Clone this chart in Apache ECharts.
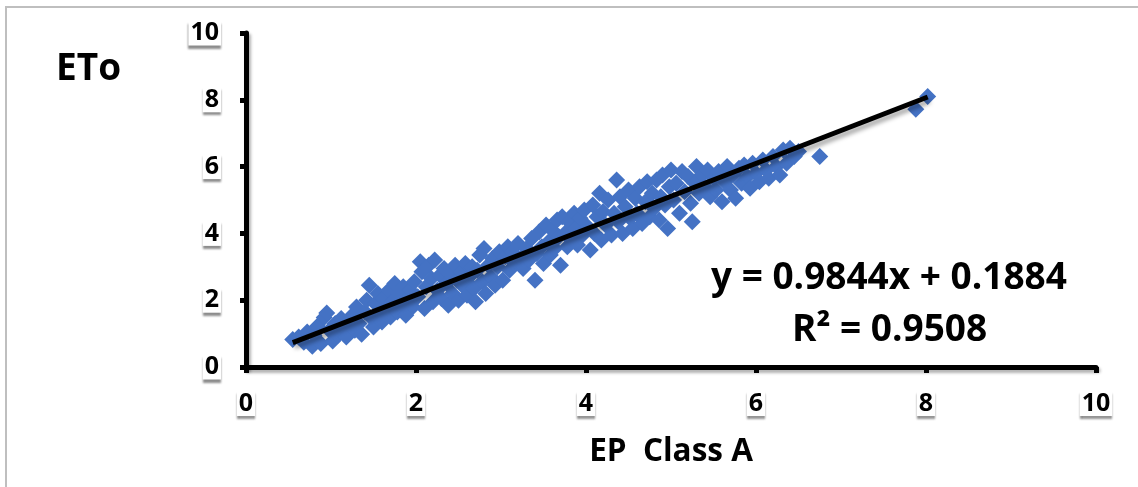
<!DOCTYPE html>
<html>
<head>
<meta charset="utf-8">
<script src="https://cdn.jsdelivr.net/npm/echarts@6/dist/echarts.min.js"></script>
<style>
  html, body { margin: 0; padding: 0; background: #fff; }
  #chart { width: 1138px; height: 487px; }
</style>
</head>
<body>
<div id="chart"></div>
<script>
// Daily pan evaporation (EP, Class A) vs reference evapotranspiration (ETo)
const epClassA = [
  0.55,0.62,0.68,0.72,0.78,0.80,0.84,0.88,0.92,0.95,0.98,1.02,1.05,1.08,1.12,1.15,1.18,1.20,
  1.25,1.28,1.30,1.33,1.36,1.40,1.42,1.45,1.48,1.50,1.52,1.55,1.58,1.60,1.62,1.65,1.68,1.70,1.72,1.75,1.78,1.80,1.82,1.85,1.88,1.90,1.93,1.96,1.98,
  2.02,2.05,2.07,2.10,2.12,2.15,2.18,2.20,2.22,2.25,2.28,2.30,2.33,2.36,2.38,2.40,2.43,2.46,2.48,2.50,2.53,2.56,2.58,2.60,2.63,2.66,2.68,2.70,2.72,2.75,2.78,2.80,2.82,2.85,2.88,2.90,2.93,2.96,2.98,
  3.02,3.05,3.08,3.10,3.13,3.16,3.20,3.23,3.26,3.30,3.33,3.36,3.40,3.42,3.45,3.48,3.50,3.53,3.56,3.58,3.60,3.63,3.66,3.68,3.70,3.72,3.75,3.78,3.80,3.83,3.86,3.88,3.90,3.93,3.96,3.98,
  4.02,4.05,4.08,4.10,4.13,4.16,4.18,4.20,4.23,4.26,4.30,4.33,4.36,4.38,4.40,4.43,4.46,4.50,4.52,4.55,4.58,4.60,4.63,4.66,4.70,4.72,4.75,4.78,4.80,4.83,4.86,4.88,4.90,4.93,4.96,4.98,
  5.00,5.03,5.06,5.10,5.13,5.16,5.20,5.23,5.25,5.28,5.30,5.33,5.36,5.40,5.43,5.46,5.50,5.53,5.56,5.60,5.63,5.66,5.70,5.73,5.76,5.80,5.83,5.86,5.90,5.93,5.96,
  6.00,6.04,6.08,6.12,6.15,6.20,6.24,6.28,6.32,6.36,6.40,6.45,6.50,6.75,7.88,8.02
];
const eto = [
  0.82,0.90,0.74,1.05,0.62,0.95,1.22,0.70,1.48,1.62,1.10,0.78,1.30,0.95,1.45,1.18,0.90,1.35,
  1.55,1.10,1.80,1.30,0.98,1.65,2.00,2.45,1.45,1.20,1.90,2.20,1.60,1.35,2.05,1.75,2.30,1.50,1.95,2.50,1.65,2.20,1.85,2.40,1.55,2.05,2.30,1.80,2.55,
  2.10,3.15,2.85,1.75,2.40,3.05,2.65,1.95,3.20,2.30,2.75,2.05,2.95,2.50,1.85,2.80,2.20,3.05,2.60,2.00,2.85,2.40,3.10,2.15,2.70,3.00,2.35,1.95,2.90,3.35,2.55,3.55,2.20,3.05,2.70,3.25,2.45,3.00,3.45,
  2.60,3.30,3.60,2.90,3.45,3.10,3.70,3.25,2.95,3.55,3.20,3.85,2.60,3.40,4.05,3.60,3.10,4.25,3.75,3.35,4.10,3.55,4.40,3.90,3.05,4.50,4.00,3.60,4.35,3.85,4.60,4.15,3.65,4.45,3.95,4.70,
  4.20,3.50,4.85,4.00,4.50,5.20,3.80,4.65,4.25,5.00,3.95,4.60,5.60,4.35,5.10,4.00,4.80,5.30,4.45,4.15,5.05,4.60,5.40,4.30,4.95,5.55,4.50,5.20,4.75,5.60,4.40,5.10,5.75,4.85,4.15,5.40,
  5.90,5.00,5.50,4.60,5.85,5.25,5.70,4.90,4.35,5.50,6.00,5.20,5.75,5.40,5.90,5.10,5.65,5.30,5.85,4.95,5.55,6.00,5.30,5.75,5.05,5.95,5.50,6.05,5.70,5.35,6.10,
  5.80,5.55,6.20,5.90,5.65,6.30,6.00,5.75,6.50,6.10,6.55,6.30,6.45,6.30,7.72,8.10
];

// Linear trend reported on the chart
const slope = 0.9844;
const intercept = 0.1884;
const rSquared = 0.9508;

const axisTicks = [0, 2, 4, 6, 8, 10];

const points = epClassA.map((x, i) => [x, eto[i]]);
const xMin = Math.min(...epClassA);
const xMax = Math.max(...epClassA);
const trend = [[xMin, slope * xMin + intercept], [xMax, slope * xMax + intercept]];

const labelFont = '"Open Sans", Lato, sans-serif';

const axisLabelStyle = {
  color: '#000',
  fontFamily: labelFont,
  fontWeight: 'bold',
  fontSize: 25,
  backgroundColor: '#fff',
  padding: [0, 2, 0, 2],
  shadowColor: 'rgba(0,0,0,0.45)',
  shadowBlur: 2,
  shadowOffsetX: 0,
  shadowOffsetY: 3,
  formatter: v => axisTicks.includes(v) ? String(v) : ''
};

const axisLineStyle = {
  color: '#000',
  width: 5,
  shadowColor: 'rgba(0,0,0,0.3)',
  shadowBlur: 3,
  shadowOffsetX: 2,
  shadowOffsetY: 3
};

const chart = echarts.init(document.getElementById('chart'), null, { renderer: 'canvas' });

chart.setOption({
  animation: false,
  backgroundColor: '#fff',
  grid: { left: 246, top: 33, right: 42, bottom: 120, containLabel: false },
  title: {
    text: 'ETo',
    left: 51,
    top: 46,
    textStyle: { fontFamily: labelFont, fontWeight: 'bold', fontSize: 37, color: '#000' }
  },
  xAxis: {
    type: 'value',
    min: 0, max: 10, interval: 2,
    name: 'EP  Class A',
    nameLocation: 'middle',
    nameGap: 69,
    nameTextStyle: { fontFamily: labelFont, fontWeight: 'bold', fontSize: 31.5, color: '#000', verticalAlign: 'top' },
    axisLine: { show: true, onZero: false, lineStyle: axisLineStyle },
    axisTick: { show: true, inside: false, length: 6, lineStyle: { color: '#000', width: 5 } },
    axisLabel: Object.assign({ margin: 24 }, axisLabelStyle),
    splitLine: { show: false }
  },
  yAxis: {
    type: 'value',
    min: 0, max: 10, interval: 2,
    axisLine: { show: true, onZero: false, lineStyle: axisLineStyle },
    axisTick: { show: true, inside: false, length: 6, lineStyle: { color: '#000', width: 5 } },
    axisLabel: Object.assign({ margin: 25 }, axisLabelStyle),
    splitLine: { show: false }
  },
  series: [
    {
      name: 'ETo',
      type: 'scatter',
      data: points,
      symbol: 'diamond',
      symbolSize: 17,
      itemStyle: { color: '#4472C4', opacity: 1 },
      z: 2
    },
    {
      name: 'Trend',
      type: 'line',
      data: trend,
      symbol: 'none',
      lineStyle: {
        color: '#000',
        width: 5,
        shadowColor: 'rgba(0,0,0,0.35)',
        shadowBlur: 4,
        shadowOffsetX: 2,
        shadowOffsetY: 4
      },
      z: 3
    }
  ],
  graphic: [
    {
      type: 'text',
      left: 711, top: 260,
      style: {
        text: 'y = ' + slope.toFixed(4) + 'x + ' + intercept.toFixed(4),
        font: 'bold 37px ' + labelFont,
        fill: '#000'
      }
    },
    {
      type: 'text',
      left: 792, top: 312,
      style: {
        text: 'R² = ' + rSquared.toFixed(4),
        font: 'bold 37px ' + labelFont,
        fill: '#000'
      }
    },
    {
      type: 'polyline',
      shape: { points: [[6, 487], [6, 7], [1138, 7]] },
      style: { stroke: '#bfbfbf', lineWidth: 2, fill: null }
    }
  ]
});
</script>
</body>
</html>
